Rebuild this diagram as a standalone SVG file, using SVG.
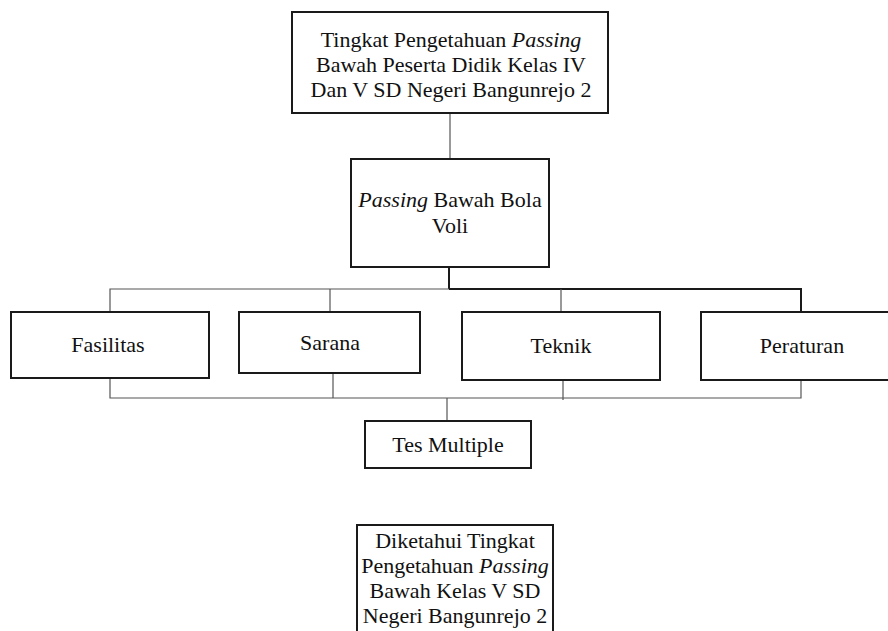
<svg xmlns="http://www.w3.org/2000/svg" width="888" height="631" viewBox="0 0 888 631">
<style>
.box{fill:#fff;stroke:#1a1a1a;stroke-width:2}
.t{font-family:"Liberation Serif","Times New Roman",serif;font-size:22px;fill:#111;text-anchor:middle}
.it{font-style:italic}
.c{fill:none;stroke:#555;stroke-width:1.2}
.ck{fill:none;stroke:#1a1a1a;stroke-width:2}
</style>
<rect width="888" height="631" fill="#fff"/>
<g id="connectors">
<line class="c" x1="450" y1="113" x2="450" y2="159"/>
<line class="ck" x1="449" y1="267" x2="449" y2="289"/>
<polyline class="c" points="110,312 110,289 449,289"/>
<polyline class="ck" points="449,289 801,289 801,312"/>
<line class="c" x1="330" y1="289" x2="330" y2="312"/>
<line class="c" x1="561" y1="289" x2="561" y2="312"/>
<polyline class="c" points="110,378 110,398 801,398 801,380"/>
<line class="c" x1="333" y1="373" x2="333" y2="398"/>
<line class="c" x1="563" y1="378" x2="563" y2="400"/>
<line class="c" x1="447" y1="398" x2="447" y2="421"/>
</g>
<g id="n_top">
<rect class="box" x="292" y="12" width="316" height="101"/>
<text class="t" x="451" y="47">Tingkat Pengetahuan <tspan class="it">Passing</tspan></text>
<text class="t" x="451" y="72">Bawah Peserta Didik Kelas IV</text>
<text class="t" x="451" y="97">Dan V SD Negeri Bangunrejo 2</text>
</g>
<g id="n_passing">
<rect class="box" x="351" y="159" width="198" height="108"/>
<text class="t" x="450" y="207"><tspan class="it">Passing</tspan> Bawah Bola</text>
<text class="t" x="450" y="233">Voli</text>
</g>
<g id="n_fasilitas">
<rect class="box" x="11" y="312" width="198" height="66"/>
<text class="t" x="108" y="352">Fasilitas</text>
</g>
<g id="n_sarana">
<rect class="box" x="239" y="312" width="181" height="61"/>
<text class="t" x="330" y="350">Sarana</text>
</g>
<g id="n_teknik">
<rect class="box" x="462" y="312" width="198" height="68"/>
<text class="t" x="561" y="353">Teknik</text>
</g>
<g id="n_peraturan">
<rect class="box" x="701" y="312" width="200" height="68"/>
<text class="t" x="802" y="353">Peraturan</text>
</g>
<g id="n_tes">
<rect class="box" x="365" y="421" width="166" height="47"/>
<text class="t" x="448" y="452">Tes Multiple</text>
</g>
<g id="n_result">
<rect class="box" x="357" y="525" width="196" height="120"/>
<text class="t" x="455" y="548">Diketahui Tingkat</text>
<text class="t" x="455" y="573">Pengetahuan <tspan class="it">Passing</tspan></text>
<text class="t" x="455" y="598">Bawah Kelas V SD</text>
<text class="t" x="455" y="623">Negeri Bangunrejo 2</text>
</g>
</svg>
